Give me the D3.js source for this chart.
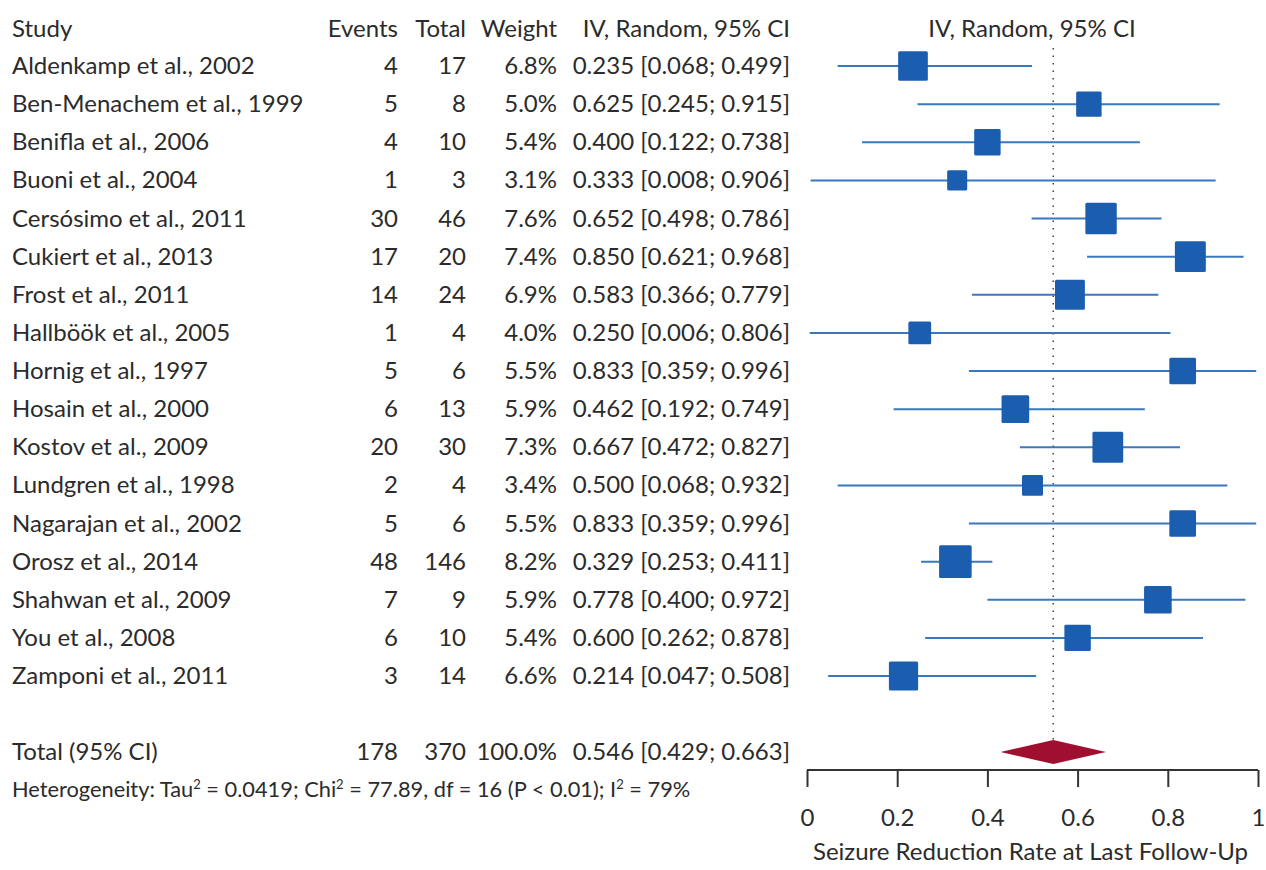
<!DOCTYPE html>
<html>
<head>
<meta charset="utf-8">
<script src="https://cdn.jsdelivr.net/npm/d3@7"></script>
<style>
  body { margin: 0; background: #fff; }
  text { font-family: Lato, "Open Sans", sans-serif; fill: #2b2b2b; }
</style>
</head>
<body>
<div id="forest"></div>
<script>
var studies = ["Aldenkamp et al., 2002", "Ben-Menachem et al., 1999", "Benifla et al., 2006",
  "Buoni et al., 2004", "Cersósimo et al., 2011", "Cukiert et al., 2013", "Frost et al., 2011",
  "Hallböök et al., 2005", "Hornig et al., 1997", "Hosain et al., 2000", "Kostov et al., 2009",
  "Lundgren et al., 1998", "Nagarajan et al., 2002", "Orosz et al., 2014", "Shahwan et al., 2009",
  "You et al., 2008", "Zamponi et al., 2011"];
var events = [4, 5, 4, 1, 30, 17, 14, 1, 5, 6, 20, 2, 5, 48, 7, 6, 3];
var totals = [17, 8, 10, 3, 46, 20, 24, 4, 6, 13, 30, 4, 6, 146, 9, 10, 14];
var weights = [6.8, 5.0, 5.4, 3.1, 7.6, 7.4, 6.9, 4.0, 5.5, 5.9, 7.3, 3.4, 5.5, 8.2, 5.9, 5.4, 6.6];
var est = [0.235, 0.625, 0.400, 0.333, 0.652, 0.850, 0.583, 0.250, 0.833, 0.462, 0.667, 0.500, 0.833, 0.329, 0.778, 0.600, 0.214];
var lower = [0.068, 0.245, 0.122, 0.008, 0.498, 0.621, 0.366, 0.006, 0.359, 0.192, 0.472, 0.068, 0.359, 0.253, 0.400, 0.262, 0.047];
var upper = [0.499, 0.915, 0.738, 0.906, 0.786, 0.968, 0.779, 0.806, 0.996, 0.749, 0.827, 0.932, 0.996, 0.411, 0.972, 0.878, 0.508];
var pooled = {label: "Total (95% CI)", events: 178, total: 370, weight: "100.0%", est: 0.546, lower: 0.429, upper: 0.663};
var xTicks = [0, 0.2, 0.4, 0.6, 0.8, 1];

var svgWidth = 1266, svgHeight = 870;
var fs = 24;
var dy = 8;

var svg = d3.select("#forest").append("svg")
  .attr("width", svgWidth)
  .attr("height", svgHeight);

var x = d3.scaleLinear().domain([0, 1]).range([807, 1258]);
var y = d3.scaleLinear().domain([0, studies.length - 1]).range([66, 676]);
var size = d3.scaleSqrt().domain([0, 10]).range([0, 36]);

// column headers
var header = svg.append("g").attr("font-size", fs);
header.append("text").attr("x", 12).attr("y", 37).text("Study");
header.append("text").attr("x", 398).attr("y", 37).attr("text-anchor", "end").text("Events");
header.append("text").attr("x", 466).attr("y", 37).attr("text-anchor", "end").text("Total");
header.append("text").attr("x", 557).attr("y", 37).attr("text-anchor", "end").text("Weight");
header.append("text").attr("x", 790).attr("y", 37).attr("text-anchor", "end").text("IV, Random, 95% CI");
header.append("text").attr("x", 1032).attr("y", 37).attr("text-anchor", "middle").text("IV, Random, 95% CI");

// reference line at pooled estimate
svg.append("line")
  .attr("x1", x(pooled.est)).attr("x2", x(pooled.est))
  .attr("y1", 48).attr("y2", 752)
  .attr("stroke", "#444").attr("stroke-width", 1.5)
  .attr("stroke-dasharray", "1.5,6");

var rows = svg.selectAll("g.row")
  .data(studies)
  .enter().append("g")
  .attr("class", "row")
  .attr("font-size", fs);

rows.append("text").attr("x", 12).attr("y", (d, i) => y(i) + dy).text(d => d);
rows.append("text").attr("x", 398).attr("y", (d, i) => y(i) + dy).attr("text-anchor", "end").text((d, i) => events[i]);
rows.append("text").attr("x", 466).attr("y", (d, i) => y(i) + dy).attr("text-anchor", "end").text((d, i) => totals[i]);
rows.append("text").attr("x", 557).attr("y", (d, i) => y(i) + dy).attr("text-anchor", "end").text((d, i) => weights[i].toFixed(1) + "%");
rows.append("text").attr("x", 790).attr("y", (d, i) => y(i) + dy).attr("text-anchor", "end")
  .text((d, i) => est[i].toFixed(3) + " [" + lower[i].toFixed(3) + "; " + upper[i].toFixed(3) + "]");

// CI lines and squares
rows.append("line")
  .attr("x1", (d, i) => x(lower[i])).attr("x2", (d, i) => x(upper[i]))
  .attr("y1", (d, i) => y(i)).attr("y2", (d, i) => y(i))
  .attr("stroke", "#3a78bd").attr("stroke-width", 2);

rows.append("rect")
  .attr("x", (d, i) => x(est[i]) - size(weights[i]) / 2)
  .attr("y", (d, i) => y(i) - size(weights[i]) / 2)
  .attr("width", (d, i) => size(weights[i]))
  .attr("height", (d, i) => size(weights[i]))
  .attr("rx", 1.5)
  .attr("fill", "#1b5eb0");

// total row
var totY = 752;
var tot = svg.append("g").attr("font-size", fs);
tot.append("text").attr("x", 12).attr("y", totY + dy).text(pooled.label);
tot.append("text").attr("x", 398).attr("y", totY + dy).attr("text-anchor", "end").text(pooled.events);
tot.append("text").attr("x", 466).attr("y", totY + dy).attr("text-anchor", "end").text(pooled.total);
tot.append("text").attr("x", 557).attr("y", totY + dy).attr("text-anchor", "end").text(pooled.weight);
tot.append("text").attr("x", 790).attr("y", totY + dy).attr("text-anchor", "end")
  .text(pooled.est.toFixed(3) + " [" + pooled.lower.toFixed(3) + "; " + pooled.upper.toFixed(3) + "]");

svg.append("path")
  .attr("d", `M${x(pooled.lower)},${totY} L${x(pooled.est)},${totY - 12} L${x(pooled.upper)},${totY} L${x(pooled.est)},${totY + 12} Z`)
  .attr("fill", "#a00f30");

// heterogeneity line
var het = svg.append("text").attr("x", 12).attr("y", 797).attr("font-size", 21.8);
het.append("tspan").text("Heterogeneity: Tau");
het.append("tspan").attr("baseline-shift", "super").attr("font-size", 13).text("2");
het.append("tspan").text(" = 0.0419; Chi");
het.append("tspan").attr("baseline-shift", "super").attr("font-size", 13).text("2");
het.append("tspan").text(" = 77.89, df = 16 (P < 0.01); I");
het.append("tspan").attr("baseline-shift", "super").attr("font-size", 13).text("2");
het.append("tspan").text(" = 79%");

// x axis
var axis = svg.append("g")
  .attr("transform", "translate(0, 770)")
  .call(d3.axisBottom(x).tickValues(xTicks).tickSize(17).tickPadding(22)
    .tickFormat(d => d === 0 || d === 1 ? d3.format("d")(d) : d3.format(".1f")(d)));
axis.select(".domain").attr("stroke", "#333").attr("stroke-width", 2).attr("d", "M807,0H1258");
axis.selectAll(".tick line").attr("stroke", "#333").attr("stroke-width", 2);
axis.selectAll(".tick text").attr("font-size", fs).attr("fill", "#2b2b2b").style("font-family", "Lato, sans-serif");

svg.append("text")
  .attr("x", x(0.5) - 2).attr("y", 860)
  .attr("text-anchor", "middle")
  .attr("font-size", fs)
  .text("Seizure Reduction Rate at Last Follow-Up");
</script>
</body>
</html>
